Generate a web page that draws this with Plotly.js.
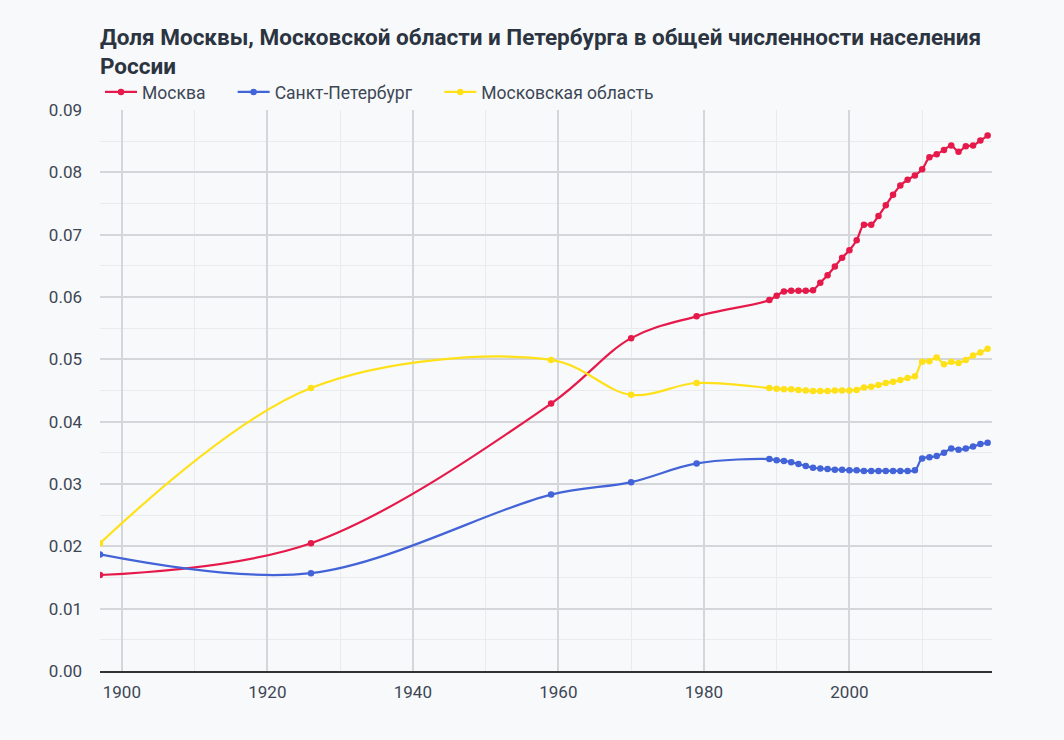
<!DOCTYPE html>
<html>
<head>
<meta charset="utf-8">
<script src="https://cdn.plot.ly/plotly-3.0.1.min.js"></script>
<style>
  html, body { margin: 0; padding: 0; background: #f8f9fb; }
  #chart { width: 1064px; height: 740px; }
</style>
</head>
<body>
<div id="chart"></div>
<script>
// census years, then yearly estimates 1989-2019
const years = [1897, 1926, 1959, 1970, 1979,
  1989, 1990, 1991, 1992, 1993, 1994, 1995, 1996, 1997, 1998, 1999,
  2000, 2001, 2002, 2003, 2004, 2005, 2006, 2007, 2008, 2009,
  2010, 2011, 2012, 2013, 2014, 2015, 2016, 2017, 2018, 2019];

const moscow = [0.0154, 0.0205, 0.0429, 0.0534, 0.0569,
  0.0595, 0.0602, 0.0609, 0.0610, 0.0610, 0.0610, 0.0611, 0.0623, 0.0635, 0.0649, 0.0663,
  0.0675, 0.0691, 0.0716, 0.0716, 0.0730, 0.0747, 0.0764, 0.0779, 0.0788, 0.0795,
  0.0805, 0.0824, 0.0829, 0.0836, 0.0843, 0.0833, 0.0842, 0.0843, 0.0851, 0.0859];

const spb = [0.0187, 0.0157, 0.0283, 0.0303, 0.0333,
  0.0340, 0.0338, 0.0337, 0.0335, 0.0332, 0.0329, 0.0326, 0.0325, 0.0324, 0.0323, 0.0323,
  0.0322, 0.0322, 0.0321, 0.0321, 0.0321, 0.0321, 0.0321, 0.0321, 0.0321, 0.0322,
  0.0341, 0.0343, 0.0345, 0.0350, 0.0357, 0.0355, 0.0357, 0.0360, 0.0364, 0.0366];

const mosOblast = [0.0205, 0.0454, 0.0499, 0.0443, 0.0462,
  0.0454, 0.0453, 0.0452, 0.0452, 0.0451, 0.0450, 0.0449, 0.0449, 0.0449, 0.0450, 0.0450,
  0.0450, 0.0451, 0.0455, 0.0456, 0.0459, 0.0462, 0.0464, 0.0467, 0.0470, 0.0473,
  0.0496, 0.0497, 0.0503, 0.0492, 0.0496, 0.0494, 0.0499, 0.0506, 0.0511, 0.0517];

const seriesNames = ['Москва', 'Санкт-Петербург', 'Московская область'];
const seriesColors = ['#e6194b', '#4363d8', '#ffe119'];
const seriesValues = [moscow, spb, mosOblast];
const legendIds = ['legend', 'legend2', 'legend3'];

const traces = seriesValues.map((vals, i) => ({
    x: years,
    y: vals,
    type: 'scatter',
    mode: 'lines+markers',
    name: seriesNames[i],
    legend: legendIds[i],
    line: { color: seriesColors[i], width: 2.2, shape: 'spline' },
    marker: { color: seriesColors[i], size: 6.5 }
}));

// one legend per series so the spacing matches the original
function legendAt(x) {
    return {
        orientation: 'h',
        x: x, xanchor: 'left',
        y: 1, yanchor: 'bottom',
        itemwidth: 32,
        font: { size: 17.5 },
        bgcolor: 'rgba(0,0,0,0)'
    };
}

const layout = {
    width: 1064,
    height: 740,
    margin: { l: 100, r: 72, t: 110, b: 69 },
    paper_bgcolor: '#f8f9fb',
    plot_bgcolor: '#f8f9fb',
    font: { family: 'Roboto, sans-serif', size: 17, color: '#3c4654' },
    title: {
        text: '<b>Доля Москвы, Московской области и Петербурга в общей численности населения<br>России</b>',
        font: { size: 22.5, color: '#2b3440' },
        x: 0, xref: 'paper', xanchor: 'left',
        y: 0.939, yanchor: 'top'
    },
    showlegend: true,
    legend: legendAt(0),
    legend2: legendAt(0.1487),
    legend3: legendAt(0.3804),
    xaxis: {
        range: [1897, 2019.6],
        tick0: 1900,
        dtick: 20,
        showgrid: true,
        gridcolor: '#d4d6d9',
        gridwidth: 1.5,
        minor: { dtick: 10, showgrid: true, gridcolor: '#eaebed', gridwidth: 1 },
        showline: true,
        linecolor: '#333',
        linewidth: 1.5,
        zeroline: false,
        ticks: '',
        ticklabelstandoff: 5,
        tickfont: { size: 17 }
    },
    yaxis: {
        range: [0, 0.09],
        dtick: 0.01,
        tickformat: '.2f',
        showgrid: true,
        gridcolor: '#d4d6d9',
        gridwidth: 1.5,
        minor: { dtick: 0.005, showgrid: true, gridcolor: '#eaebed', gridwidth: 1 },
        zeroline: false,
        showline: false,
        ticks: '',
        ticklabelstandoff: 17,
        tickfont: { size: 17 }
    },
    hovermode: 'x unified'
};

Plotly.newPlot('chart', traces, layout, { displayModeBar: false });
</script>
</body>
</html>
